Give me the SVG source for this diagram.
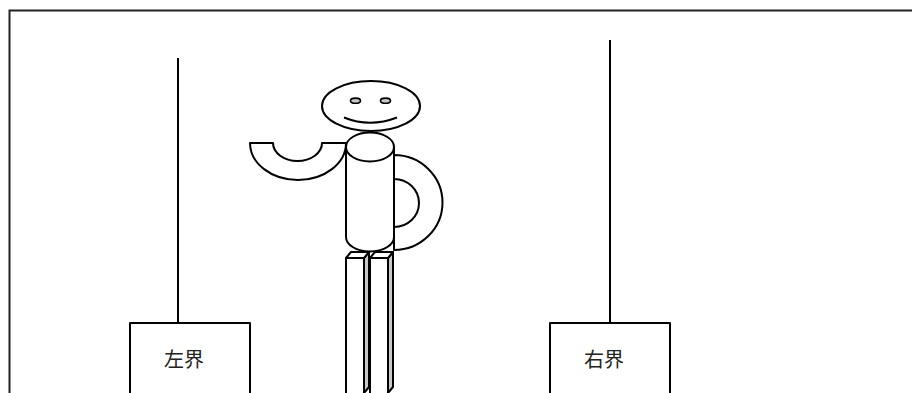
<svg xmlns="http://www.w3.org/2000/svg" width="912" height="393" viewBox="0 0 912 393">
  <style>
    .ln { fill: none; stroke: #000; stroke-width: 2; }
    .sh { fill: #fff; stroke: #000; stroke-width: 2; stroke-linejoin: round; }
    .side { fill: #c8c8c8; stroke: #000; stroke-width: 2; stroke-linejoin: round; }
    .lbl { font-family: "Liberation Sans", "Noto Sans CJK SC", sans-serif; font-size: 20px; fill: #222; }
  </style>
  <rect width="912" height="393" fill="#fff"/>

  <!-- page frame -->
  <path d="M9.5,393 V10.5 H912" fill="none" stroke="#222" stroke-width="2"/>

  <g id="connectors">
    <line class="ln" x1="178" y1="58" x2="178" y2="323"/>
    <line class="ln" x1="610" y1="40" x2="610" y2="323"/>
  </g>

  <g id="left-bound">
    <path class="sh" d="M130,394 V323 H250 V394"/>
    <text class="lbl" x="164" y="367">左界</text>
  </g>

  <g id="right-bound">
    <path class="sh" d="M550,394 V323 H670 V394"/>
    <text class="lbl" x="584" y="367">右界</text>
  </g>

  <g id="figure">
    <!-- left arm: half ring opening upward -->
    <path class="sh" d="M250,143 A48,37 0 0 0 346,143 H322 A24.5,18 0 0 1 273,143 Z"/>
    <!-- right arm: half ring opening left -->
    <path class="sh" d="M394,155 A48.5,47.5 0 0 1 394,250 V227 A25,24 0 0 0 394,179 Z"/>

    <!-- legs -->
    <g id="leg-left">
      <rect class="sh" x="346" y="258" width="18" height="140"/>
      <path class="side" d="M364,258 L369,252 V387 L364,393 Z"/>
      <path class="sh" d="M346,258 L351,252 H369 L364,258 Z"/>
    </g>
    <g id="leg-right">
      <rect class="sh" x="370" y="258" width="18" height="140"/>
      <path class="side" d="M388,258 L393,252 V387 L388,393 Z"/>
      <path class="sh" d="M370,258 L375,252 H393 L388,258 Z"/>
    </g>

    <!-- body cylinder -->
    <path class="sh" d="M346,147 V237 A24,14.5 0 0 0 394,237 V147 Z"/>
    <ellipse class="sh" cx="370" cy="147" rx="24" ry="14.5"/>

    <!-- head -->
    <ellipse class="sh" cx="371" cy="106" rx="49" ry="25"/>
    <ellipse cx="355.5" cy="100.7" rx="5" ry="2.6" fill="#c8c8c8" stroke="#000" stroke-width="1.6"/>
    <ellipse cx="385.5" cy="100.7" rx="5" ry="2.6" fill="#c8c8c8" stroke="#000" stroke-width="1.6"/>
    <path class="ln" d="M344,117.5 Q370,128 397,117.5"/>
  </g>
</svg>
